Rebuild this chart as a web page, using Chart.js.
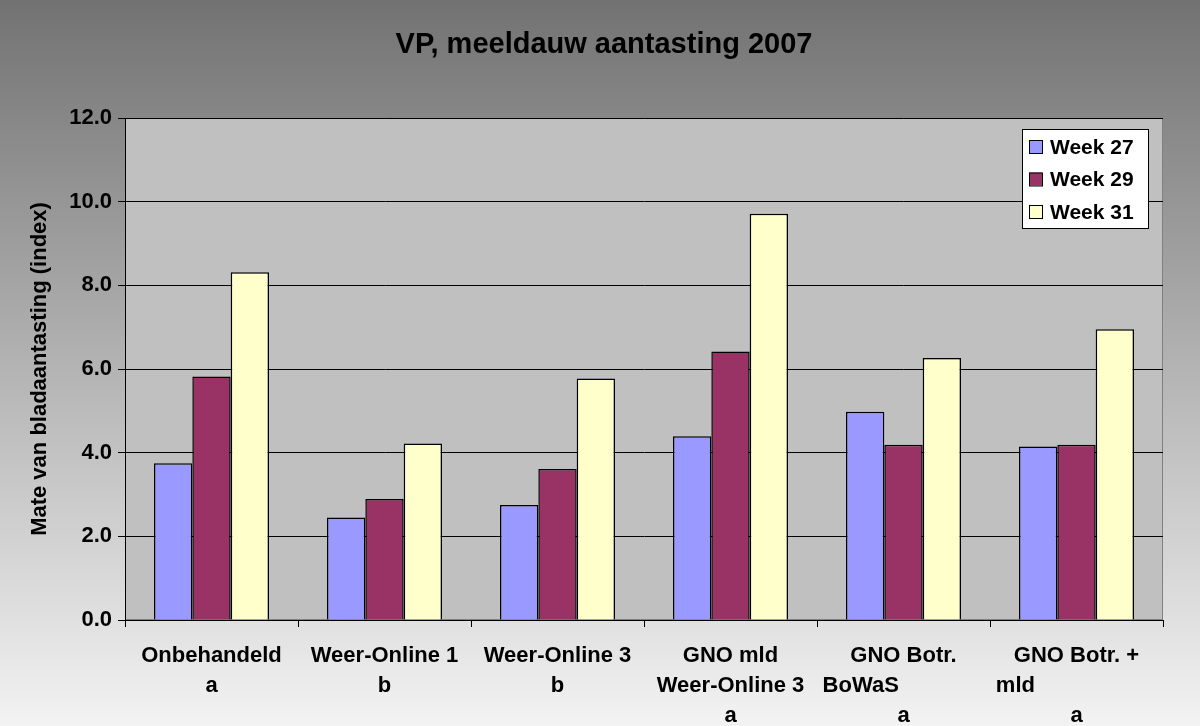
<!DOCTYPE html>
<html>
<head>
<meta charset="utf-8">
<script src="https://cdn.jsdelivr.net/npm/chart.js@4/dist/chart.umd.min.js"></script>
<style>
    html, body { margin: 0; padding: 0; background: #ffffff; }
    #wrap { width: 1200px; height: 726px; }
</style>
</head>
<body>
<div id="wrap"><canvas id="myChart"></canvas></div>
<script>
// DATA
var chartTitle = 'VP, meeldauw aantasting 2007';
var categories = [
    ['Onbehandeld', 'a'],
    ['Weer-Online 1', 'b'],
    ['Weer-Online 3', 'b'],
    ['GNO mld', 'Weer-Online 3', 'a'],
    ['GNO Botr.', 'BoWaS              ', 'a'],
    ['GNO Botr. +', 'mld                    ', 'a']
];
var seriesNames = ['Week 27', 'Week 29', 'Week 31'];
var week27 = [3.75, 2.45, 2.75, 4.39, 4.98, 4.15];
var week29 = [5.82, 2.89, 3.61, 6.42, 4.19, 4.19];
var week31 = [8.31, 4.22, 5.77, 9.71, 6.26, 6.95];
var yTicks = [0, 2, 4, 6, 8, 10, 12];

var barColors = ['#9999FF', '#993366', '#FFFFCC'];
var FONT = 'Arial, "Liberation Sans", sans-serif';

// background, plot area, title and legend
const decor = {
    id: 'decor',
    beforeDraw(chart) {
        var ctx = chart.ctx;
        var a = chart.chartArea;
        ctx.save();
        var g = ctx.createLinearGradient(0, 0, 0, chart.height);
        g.addColorStop(0, '#727272');
        g.addColorStop(1, '#f3f3f3');
        ctx.fillStyle = g;
        ctx.fillRect(0, 0, chart.width, chart.height);
        ctx.fillStyle = '#c0c0c0';
        ctx.fillRect(a.left, a.top, a.right - a.left, a.bottom - a.top);
        ctx.strokeStyle = '#808080';
        ctx.lineWidth = 1;
        ctx.strokeRect(a.left + 0.5, a.top + 0.5, a.right - a.left - 1, a.bottom - a.top - 1);

        // TITLE
        ctx.fillStyle = '#000000';
        ctx.font = 'bold 29px ' + FONT;
        ctx.textAlign = 'center';
        ctx.textBaseline = 'middle';
        ctx.fillText(chartTitle, 604, 45);
        ctx.restore();
    },
    afterDraw(chart) {
        var ctx = chart.ctx;
        var a = chart.chartArea;
        var x0 = a.right - 141, y0 = a.top + 11;
        ctx.save();
        ctx.fillStyle = '#ffffff';
        ctx.fillRect(x0, y0, 126, 99);
        ctx.strokeStyle = '#000000';
        ctx.lineWidth = 1;
        ctx.strokeRect(x0 + 0.5, y0 + 0.5, 126, 99);
        ctx.font = 'bold 21px ' + FONT;
        ctx.textBaseline = 'middle';
        chart.data.datasets.forEach(function (ds, i) {
            var cy = y0 + 18 + i * 32.5;
            ctx.fillStyle = ds.backgroundColor;
            ctx.fillRect(x0 + 7, cy - 7, 13, 13);
            ctx.strokeStyle = '#000000';
            ctx.strokeRect(x0 + 7.5, cy - 6.5, 13, 13);
            ctx.fillStyle = '#000000';
            ctx.fillText(ds.label, x0 + 28, cy + 1);
        });
        ctx.restore();
    }
};

const mainChart = new Chart('myChart', {
    type: 'bar',
    data: {
        labels: categories,
        datasets: [
            { label: seriesNames[0], data: week27, backgroundColor: barColors[0] },
            { label: seriesNames[1], data: week29, backgroundColor: barColors[1] },
            { label: seriesNames[2], data: week31, backgroundColor: barColors[2] }
        ]
    },
    options: {
        responsive: true,
        maintainAspectRatio: false,
        animation: false,
        layout: { padding: { left: 0, right: 37, top: 118, bottom: 0 } },
        datasets: {
            bar: {
                categoryPercentage: 0.665,
                barPercentage: 1.0,
                borderColor: '#000000',
                borderWidth: 1.5
            }
        },
        plugins: {
            legend: { display: false },
            tooltip: { enabled: false },
            title: { display: false }
        },
        scales: {
            x: {
                grid: {
                    display: true,
                    offset: true,
                    drawOnChartArea: false,
                    drawTicks: true,
                    tickLength: 7,
                    color: '#000000'
                },
                border: { display: true, color: '#000000', width: 1 },
                ticks: {
                    color: '#000000',
                    maxRotation: 0,
                    autoSkip: false,
                    padding: 14,
                    font: { family: FONT, size: 22, weight: 'bold', lineHeight: '30px' }
                },
                afterFit: function (scale) { scale.height = 106; }
            },
            y: {
                min: 0,
                max: 12,
                afterBuildTicks: function (scale) {
                    scale.ticks = yTicks.map(function (v) { return { value: v }; });
                },
                grid: {
                    color: '#000000',
                    tickLength: 7,
                    lineWidth: 1
                },
                border: { display: true, color: '#000000', width: 1 },
                ticks: {
                    color: '#000000',
                    padding: 6,
                    font: { family: FONT, size: 22, weight: 'bold' },
                    callback: function (v) { return Number(v).toFixed(1); }
                },
                title: {
                    display: true,
                    text: 'Mate van bladaantasting (index)',
                    color: '#000000',
                    font: { family: FONT, size: 22, weight: 'bold', lineHeight: 1.2 },
                    padding: { top: 27, bottom: 0 }
                },
                afterFit: function (scale) { scale.width = 125; }
            }
        }
    },
    plugins: [decor]
});
</script>
</body>
</html>
